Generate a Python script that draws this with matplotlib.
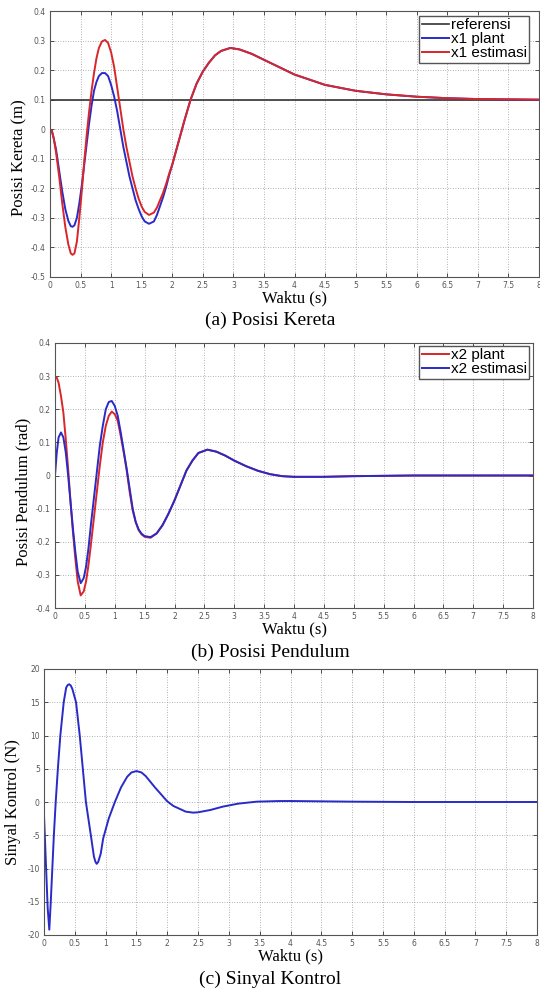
import numpy as np
import matplotlib
matplotlib.use("Agg")
import matplotlib.pyplot as plt

# (a) posisi kereta
t_a = [0, 0.03, 0.06, 0.1, 0.15, 0.2, 0.25, 0.3, 0.34, 0.37, 0.4, 0.44, 0.48, 0.52,
       0.56, 0.6, 0.64, 0.68, 0.72, 0.76, 0.8, 0.85, 0.9, 0.95, 1.0, 1.05, 1.1, 1.15,
       1.2, 1.25, 1.3, 1.35, 1.4, 1.45, 1.5, 1.55, 1.62, 1.7, 1.75, 1.8, 1.85, 1.9,
       1.95, 2.0, 2.1, 2.2, 2.3, 2.4, 2.5, 2.6, 2.7, 2.8, 2.95, 3.1, 3.3, 3.5, 3.75,
       4.0, 4.5, 5.0, 5.5, 6.0, 6.5, 7.0, 7.5, 8.0]
x1_est = [0, -0.005, -0.03, -0.08, -0.16, -0.25, -0.33, -0.39, -0.42, -0.425, -0.42,
          -0.38, -0.30, -0.21, -0.11, -0.02, 0.06, 0.13, 0.19, 0.24, 0.275, 0.297, 0.302,
          0.292, 0.26, 0.21, 0.14, 0.07, 0.0, -0.06, -0.11, -0.16, -0.2, -0.235, -0.262,
          -0.28, -0.29, -0.282, -0.265, -0.24, -0.215, -0.185, -0.15, -0.12, -0.045, 0.03,
          0.10, 0.155, 0.195, 0.225, 0.25, 0.265, 0.275, 0.27, 0.255, 0.235, 0.21, 0.185,
          0.15, 0.13, 0.118, 0.11, 0.105, 0.102, 0.101, 0.1]
x1_plant = [0, -0.005, -0.03, -0.07, -0.14, -0.21, -0.27, -0.31, -0.328, -0.33, -0.325,
            -0.30, -0.25, -0.19, -0.12, -0.05, 0.02, 0.08, 0.13, 0.16, 0.18, 0.19, 0.19,
            0.18, 0.15, 0.11, 0.06, 0.0, -0.06, -0.11, -0.16, -0.2, -0.24, -0.27, -0.295,
            -0.312, -0.32, -0.312, -0.29, -0.26, -0.23, -0.195, -0.155, -0.12, -0.045, 0.03,
            0.10, 0.155, 0.195, 0.225, 0.25, 0.265, 0.275, 0.27, 0.255, 0.235, 0.21, 0.185,
            0.15, 0.13, 0.118, 0.11, 0.105, 0.102, 0.101, 0.1]
ref_t = [0, 8]
ref_val = [0.1, 0.1]

# (b) posisi pendulum
t_b = [0, 0.03, 0.06, 0.1, 0.14, 0.18, 0.22, 0.26, 0.3, 0.34, 0.38, 0.43, 0.48, 0.52,
       0.56, 0.6, 0.65, 0.7, 0.75, 0.8, 0.85, 0.9, 0.95, 1.0, 1.05, 1.1, 1.15, 1.2,
       1.25, 1.3, 1.35, 1.4, 1.45, 1.5, 1.6, 1.7, 1.8, 1.9, 2.0, 2.1, 2.2, 2.3, 2.4,
       2.55, 2.7, 2.85, 3.0, 3.2, 3.4, 3.6, 3.8, 4.0, 4.5, 5.0, 5.5, 6.0, 7.0, 8.0]
x2_plant = [0.30, 0.295, 0.28, 0.24, 0.19, 0.11, 0.02, -0.08, -0.17, -0.25, -0.32,
            -0.362, -0.35, -0.32, -0.27, -0.21, -0.13, -0.05, 0.03, 0.10, 0.15, 0.18,
            0.193, 0.185, 0.165, 0.12, 0.07, 0.015, -0.05, -0.105, -0.14, -0.165, -0.178,
            -0.185, -0.188, -0.175, -0.15, -0.115, -0.075, -0.03, 0.015, 0.045, 0.068,
            0.078, 0.072, 0.06, 0.045, 0.028, 0.014, 0.004, -0.002, -0.004, -0.004,
            -0.002, -0.001, 0, 0, 0]
x2_est = [0.0, 0.07, 0.115, 0.13, 0.115, 0.07, 0.0, -0.08, -0.16, -0.23, -0.29, -0.325,
          -0.31, -0.275, -0.22, -0.15, -0.07, 0.01, 0.09, 0.15, 0.2, 0.222, 0.225, 0.21,
          0.18, 0.13, 0.075, 0.02, -0.04, -0.1, -0.14, -0.163, -0.176, -0.183, -0.186,
          -0.175, -0.15, -0.115, -0.075, -0.03, 0.015, 0.045, 0.068, 0.078, 0.072, 0.06,
          0.045, 0.028, 0.014, 0.004, -0.002, -0.004, -0.004, -0.002, -0.001, 0, 0, 0]

# (c) sinyal kontrol
t_c = [0, 0.03, 0.06, 0.086, 0.11, 0.135, 0.16, 0.19, 0.225, 0.265, 0.32, 0.36, 0.385,
       0.41, 0.435, 0.46, 0.52, 0.58, 0.63, 0.68, 0.76, 0.81, 0.835, 0.855, 0.88, 0.92,
       0.96, 1.05, 1.15, 1.25, 1.35, 1.42, 1.5, 1.58, 1.65, 1.8, 2.0, 2.1, 2.3, 2.42,
       2.5, 2.7, 2.9, 3.15, 3.45, 3.8, 4.0, 4.5, 5.0, 6.0, 8.0]
u = [-2, -9, -16, -19.2, -15, -10, -5, 0, 5, 10, 15, 17.2, 17.6, 17.7, 17.5, 17, 15,
     10, 5, 0, -5, -8.2, -9.0, -9.3, -9.0, -7.8, -5.5, -2.5, 0, 2.2, 3.8, 4.45, 4.65,
     4.45, 3.9, 2.2, 0.1, -0.6, -1.45, -1.6, -1.55, -1.2, -0.7, -0.25, 0.05, 0.14,
     0.15, 0.1, 0.05, 0, 0]

xticks = [0, 0.5, 1, 1.5, 2, 2.5, 3, 3.5, 4, 4.5, 5, 5.5, 6, 6.5, 7, 7.5, 8]
xtick_labels = ["0", "0.5", "1", "1.5", "2", "2.5", "3", "3.5", "4", "4.5", "5",
                "5.5", "6", "6.5", "7", "7.5", "8"]
yticks_ab = [-0.5, -0.4, -0.3, -0.2, -0.1, 0, 0.1, 0.2, 0.3, 0.4]
ytick_labels_ab = ["-0.5", "-0.4", "-0.3", "-0.2", "-0.1", "0", "0.1", "0.2", "0.3", "0.4"]
yticks_c = [-20, -15, -10, -5, 0, 5, 10, 15, 20]
ytick_labels_c = ["-20", "-15", "-10", "-5", "0", "5", "10", "15", "20"]

RED = "#d8262a"
BLUE = "#2a2ac8"
serif = "Liberation Serif"
sans = "Liberation Sans"

fig = plt.figure(figsize=(5.4, 9.91), dpi=100)


def style(ax, ylim, yt, ytl):
    ax.set_xlim(0, 8)
    ax.set_ylim(*ylim)
    ax.set_xticks(xticks)
    ax.set_xticklabels(xtick_labels)
    ax.set_yticks(yt)
    ax.set_yticklabels(ytl)
    ax.tick_params(direction="in", length=3, width=0.6, labelsize=5.5, pad=3,
                   top=True, right=True, colors="#333333", labelcolor="#555555")
    ax.grid(True, linestyle=(0, (1, 2)), color="#999999", linewidth=0.6)
    for s in ax.spines.values():
        s.set_color("#555555")
        s.set_linewidth(0.8)
    ax.set_xlabel("Waktu (s)", fontfamily=serif, fontsize=12, labelpad=0.5)


leg_kw = dict(loc="upper right", fancybox=False, edgecolor="#555555", framealpha=1,
              borderpad=0.15, labelspacing=0.0, handlelength=1.8, handletextpad=0.1,
              borderaxespad=0, prop={"family": sans, "size": 11})

ax1 = fig.add_axes([50/540, 1-277/991, 489/540, 266/991])
ax1.plot(ref_t, ref_val, color="#333333", lw=1.2, label="referensi")
ax1.plot(t_a, x1_plant, color=BLUE, lw=1.4, label="x1 plant")
ax1.plot(t_a, x1_est, color=RED, lw=1.4, label="x1 estimasi")
style(ax1, (-0.5, 0.4), yticks_ab, ytick_labels_ab)
ax1.set_ylabel("Posisi Kereta (m)", fontfamily=serif, fontsize=12)
ax1.yaxis.set_label_coords(-0.047, 0.45)
ax1.legend(bbox_to_anchor=(0.9796, 0.981), **leg_kw)

ax2 = fig.add_axes([55/540, 1-608/991, 478/540, 265/991])
ax2.plot(t_b, x2_plant, color=RED, lw=1.4, label="x2 plant")
ax2.plot(t_b, x2_est, color=BLUE, lw=1.4, label="x2 estimasi")
style(ax2, (-0.4, 0.4), yticks_ab[1:], ytick_labels_ab[1:])
ax2.set_ylabel("Posisi Pendulum (rad)", fontfamily=serif, fontsize=12)
ax2.yaxis.set_label_coords(-0.05, 0.44)
ax2.legend(bbox_to_anchor=(0.9916, 0.9887), **leg_kw)

ax3 = fig.add_axes([44/540, 1-935/991, 493/540, 266/991])
ax3.plot(t_c, u, color=BLUE, lw=1.4)
style(ax3, (-20, 20), yticks_c, ytick_labels_c)
ax3.set_ylabel("Sinyal Kontrol (N)", fontfamily=serif, fontsize=12)
ax3.yaxis.set_label_coords(-0.047, 0.5)

fig.text(0.5, 1-320/991, "(a) Posisi Kereta", ha="center", va="center",
         fontfamily=serif, fontsize=14)
fig.text(0.5, 1-652/991, "(b) Posisi Pendulum", ha="center", va="center",
         fontfamily=serif, fontsize=14)
fig.text(0.5, 1-979/991, "(c) Sinyal Kontrol", ha="center", va="center",
         fontfamily=serif, fontsize=14)

fig.savefig("out.png", dpi=100)
